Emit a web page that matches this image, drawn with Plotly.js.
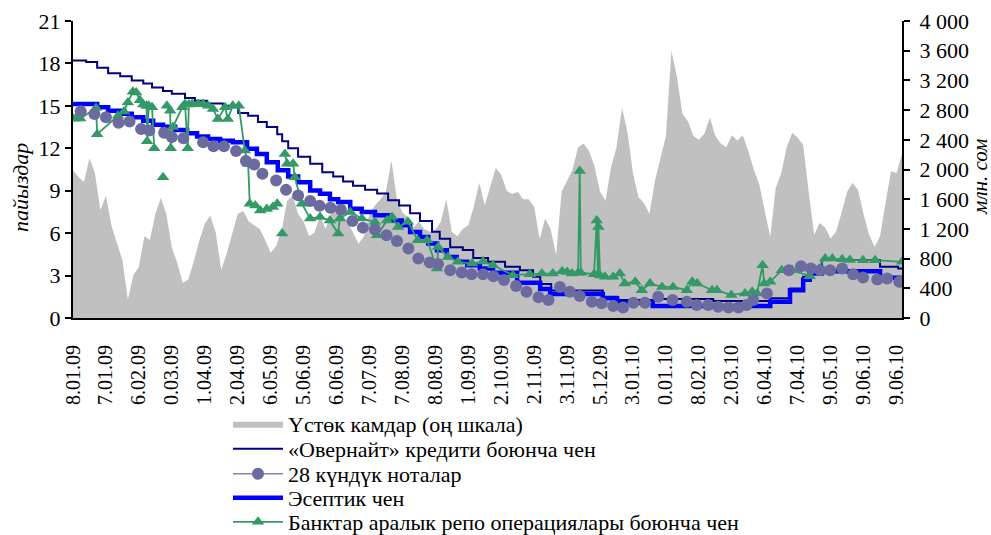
<!DOCTYPE html>
<html>
<head>
<meta charset="utf-8">
<script src="https://cdn.plot.ly/plotly-3.0.1.min.js"></script>
<style>
  html, body { margin: 0; padding: 0; background: #ffffff; }
  #chart { width: 991px; height: 535px; }
</style>
</head>
<body>
<div id="chart"></div>
<script>
// ---- tick labels (as printed, first character cut off in the source) ----
const dateLabels = ["8.01.09","7.01.09","6.02.09","0.03.09","1.04.09","2.04.09","6.05.09","5.06.09",
  "6.06.09","7.07.09","7.08.09","8.08.09","1.09.09","2.10.09","2.11.09","3.11.09","5.12.09",
  "3.01.10","0.01.10","8.02.10","2.03.10","6.04.10","7.04.10","9.05.10","9.06.10","9.06.10"];
const obsPerLabel = 6;   // observations between two printed dates

// ---- excess reserves, mln som (right scale), one value per observation ----
const reserves = [1990,1900,1830,2150,1950,1450,1650,1250,1010,780,
  250,580,690,1100,1050,1400,1620,1400,950,740,
  470,520,760,1040,1270,1380,1150,650,870,1120,
  1400,1440,1300,1250,1200,1050,880,970,1180,1580,
  1650,1400,1300,1100,1150,1380,1200,1409,1450,1400,
  1300,1150,1000,1100,1400,1520,1600,1700,2120,1600,
  1420,1355,1220,1300,1200,1160,1190,1300,1600,1160,
  1100,1200,1250,1500,1820,1520,1760,2020,1930,1710,
  1670,1700,1600,1600,1500,1060,1340,1200,850,1700,
  1850,2000,2300,2350,2250,2040,1700,1580,2030,2300,
  2830,2500,1950,1630,1550,1400,1850,2150,2450,3600,
  3250,2750,2650,2450,2400,2480,2700,2450,2350,2300,
  2460,2390,2460,2250,2000,1800,1420,1090,1750,1950,
  2300,2490,2430,2330,1700,1120,1280,1220,1070,1160,
  1420,1700,1820,1720,1400,1120,960,1100,1550,1980,
  1950,2214];
const reservesX = reserves.map((_, i) => i);

// ---- overnight credit rate, % (step changes) ----
const overnightX = [0,2.4,4.4,6.4,8.6,10.7,12.8,14.4,16.4,18.0,20.4,22.2,24.4,27.3,30.1,31.9,33.7,35.3,37.2,38.1,
  39.2,41.0,43.2,45.4,47.4,49.2,51.0,53.2,55.4,57.4,59.4,61.4,63.2,65.4,66.8,68.7,71.0,72.9,75.6,78.7,
  81.4,83.8,85.1,87.1,96.5,99.1,107.2,116.6,127.0,130.6,133.0,134.2,136.4,147.0,150.3,151];
const overnightY = [18.2,18.1,17.7,17.3,17.1,16.8,16.58,16.3,16.05,15.85,15.55,15.36,15.17,15.0,14.5,14.3,13.85,13.5,13.0,12.5,
  12.0,11.4,10.9,10.3,10.0,9.65,9.35,9.07,8.8,8.32,7.96,7.4,6.85,6.1,5.6,5.0,4.8,4.25,3.97,3.62,
  3.38,2.91,2.4,1.95,1.5,1.27,1.35,1.2,1.39,2.09,2.91,3.45,4.1,3.62,3.5,3.5];

// ---- discount rate, % (step changes) ----
const discountX = [0,4.4,6.4,8.6,10.7,12.8,14.6,16.4,18.6,20.8,22.6,24.6,26.8,29.1,31.7,33.5,35.3,37.3,39.2,41.0,
  43.2,45.0,46.8,48.3,50.5,52.6,55.0,57.4,59.9,61.4,63.2,64.7,66.3,68.1,69.9,71.8,74.1,76.5,80.9,85.1,
  86.9,96.5,99.1,105.6,127.0,130.6,133.0,134.2,136.4,147.0,151];
const discountY = [15.13,14.9,14.66,14.44,14.19,13.95,13.67,13.53,13.3,13.06,12.83,12.66,12.54,12.42,11.96,11.6,11.01,10.45,10.0,9.6,
  9.02,8.79,8.4,8.2,7.73,7.49,7.26,6.9,6.55,6.08,5.73,5.26,4.79,4.32,3.97,3.73,3.5,3.2,2.5,2.05,
  1.69,1.39,1.07,0.85,1.15,1.97,2.7,3.15,3.3,2.85,2.85];

// ---- 28-day notes yield, % ----
const notesX = [1.4,3.9,6.0,8.3,10.3,12.4,13.9,16.6,18.0,20.1,23.7,25.6,27.5,29.7,31.5,33.0,34.5,37.0,38.8,41.0,
  43.2,44.9,46.9,48.8,50.9,52.8,55.0,57.1,59.0,61.1,62.9,65.0,66.5,68.7,70.8,72.6,74.7,76.6,78.5,80.7,
  82.6,84.8,86.6,88.7,90.5,92.3,94.5,96.3,98.4,100.2,102.1,104.2,106.6,109.2,111.8,113.6,115.7,117.5,119.4,121.2,
  122.7,123.9,126.4,130.4,132.6,134.4,136.1,137.9,140.1,142.1,143.9,146.5,148.3,150.5];
const notesY = [14.61,14.43,14.19,13.8,13.9,13.37,13.25,13.1,12.8,12.71,12.43,12.15,12.15,11.8,11.1,10.85,10.2,9.72,9.06,8.67,
  8.27,7.94,7.8,7.65,6.86,6.39,6.25,5.85,5.45,4.91,4.2,3.92,3.81,3.38,3.22,3.1,3.1,2.96,2.68,2.26,
  1.85,1.46,1.27,2.2,1.85,1.55,1.15,1.04,0.85,0.75,1.08,1.08,1.5,1.27,1.15,0.92,0.92,0.8,0.75,0.75,
  0.92,1.27,1.74,3.38,3.66,3.5,3.38,3.38,3.5,3.1,2.87,2.73,2.8,2.56];

// ---- interbank repo rate, % (null = no trades) ----
const repoX = [0,0.5,1.3,4.2,4.4,8.2,9.3,10.0,10.9,11.5,12.2,12.8,13.4,13.5,13.8,14.4,14.8,15.5,16.4,17.0,
  17.1,17.7,17.8,18.2,19.9,20.4,20.9,21.1,21.7,22.8,23.7,24.6,25.5,26.4,27.7,28.2,29.1,30.2,31.3,31.9,
  32.2,33.2,34.1,35.3,36.4,37.2,37.7,38.1,38.4,38.6,39.0,40.1,40.4,41.7,43.2,45.0,46.8,48.3,48.6,50.5,
  52.6,55.0,55.4,57.2,58.1,59.2,61.0,62.8,64.5,66.3,66.5,68.3,70.1,72.7,74.7,76.5,80.1,83.2,85.4,87.4,
  89.1,90.0,90.9,92.0,92.3,92.5,94.9,95.4,95.6,95.7,96.0,96.9,98.4,99.6,100.5,102.4,103.6,105.1,107.3,109.3,
  111.8,112.8,113.7,116.4,117.3,119.9,122.4,123.7,124.6,125.6,125.9,127.0,129.1,131.0,134.2,137.0,138.3,140.1,141.5,143.9,
  146.1,151.0];
const repoY = [14.1,14.1,14.1,14.85,13.0,14.3,14.6,15.24,16.0,15.95,15.4,15.1,15.0,12.5,15.0,14.9,12.0,null,9.96,null,
  15.0,14.66,12.0,13.5,14.9,15.13,12.0,15.1,15.13,15.13,15.13,15.0,14.78,14.07,14.9,14.07,15.0,15.0,11.84,10.9,
  8.08,7.96,7.6,7.7,7.84,8.08,null,5.97,null,11.6,10.9,10.9,9.96,8.08,7.03,7.14,6.9,5.97,7.03,7.49,
  7.03,6.79,5.85,6.9,7.14,6.43,6.8,5.5,5.5,3.5,5.02,4.32,3.97,3.85,4.0,3.73,3.03,3.1,3.15,3.15,
  3.3,3.25,3.15,3.2,10.4,3.2,3.1,6.9,3.1,6.43,3.0,2.91,2.91,3.15,2.44,2.56,1.97,2.44,2.2,2.2,
  1.97,2.56,2.44,1.97,1.97,1.62,1.74,1.85,1.74,3.73,2.44,2.56,3.38,3.38,2.96,4.2,4.2,4.15,4.1,4.09,
  4.09,3.97];

const seriesNames = ["Үстөк камдар (оң шкала)", "«Овернайт» кредити боюнча чен", "28 күндүк ноталар",
  "Эсептик чен", "Банктар аралык репо операциялары боюнча чен"];

const FONT = "Liberation Serif, Times New Roman, serif";
const tickVals = dateLabels.map((_, k) => k * obsPerLabel);

const traces = [
  { type: "scatter", mode: "lines", x: reservesX, y: reserves, xaxis: "x", yaxis: "y",
    fill: "tozeroy", fillcolor: "#C0C0C0", line: { width: 0, color: "#C0C0C0" },
    name: seriesNames[0], legend: "legend", hoverinfo: "skip" },
  { type: "scatter", mode: "lines", x: overnightX, y: overnightY, xaxis: "x", yaxis: "y2",
    line: { shape: "hv", color: "#000080", width: 2 }, name: seriesNames[1], legend: "legend2" },
  { type: "scatter", mode: "lines", x: discountX, y: discountY, xaxis: "x", yaxis: "y2",
    line: { shape: "hv", color: "#0000FF", width: 4.5 }, name: seriesNames[3], legend: "legend4" },
  { type: "scatter", mode: "lines+markers", x: repoX, y: repoY, xaxis: "x", yaxis: "y2",
    line: { color: "#339966", width: 1.8 }, marker: { symbol: "triangle-up", size: 11, color: "#339966" },
    name: seriesNames[4], legend: "legend5" },
  // 28-day notes: markers only on the chart (the source draws no connecting line)
  { type: "scatter", mode: "markers", x: notesX, y: notesY, xaxis: "x", yaxis: "y2",
    marker: { symbol: "circle", size: 12, color: "#6B6BA0" },
    name: seriesNames[2], showlegend: false },
  // its legend key, drawn as in the source (line + marker)
  { type: "scatter", mode: "lines+markers", x: [null], y: [null], xaxis: "x", yaxis: "y2",
    line: { color: "#8484BC", width: 1.5 }, marker: { symbol: "circle", size: 12, color: "#6B6BA0" },
    name: seriesNames[2], legend: "legend3", hoverinfo: "skip" }
];

function legendAt(py) {
  return { xref: "container", yref: "container",
    x: 228 / 991, xanchor: "left", y: 1 - py / 535, yanchor: "middle",
    bgcolor: "rgba(0,0,0,0)", borderwidth: 0, itemwidth: 50,
    font: { family: FONT, size: 22, color: "#000" } };
}

const layout = {
  width: 991, height: 535,
  margin: { l: 73, r: 89, t: 21, b: 217, pad: 0, autoexpand: false },
  paper_bgcolor: "#ffffff", plot_bgcolor: "#ffffff",
  separators: ". ",
  font: { family: FONT, size: 22, color: "#000" },
  showlegend: true,
  xaxis: {
    range: [0, 151], showgrid: false, zeroline: false, automargin: false,
    showline: true, linecolor: "#000", linewidth: 2,
    tickmode: "array", tickvals: tickVals, ticktext: dateLabels,
    tickangle: -90, ticks: "", ticklabelstandoff: 17,
    tickfont: { family: FONT, size: 20, color: "#000" }
  },
  yaxis: {
    side: "right", range: [0, 4000], dtick: 400, tickformat: ",d", automargin: false,
    showgrid: false, zeroline: false, showline: true, linecolor: "#000", linewidth: 2,
    ticks: "outside", ticklen: 6, tickwidth: 2, tickcolor: "#000", ticklabelstandoff: 5,
    tickfont: { family: FONT, size: 22, color: "#000" }
  },
  yaxis2: {
    overlaying: "y", side: "left", range: [0, 21], dtick: 3, automargin: false,
    showgrid: false, zeroline: false, showline: true, linecolor: "#000", linewidth: 2,
    ticks: "outside", ticklen: 6, tickwidth: 2, tickcolor: "#000",
    tickfont: { family: FONT, size: 22, color: "#000" }
  },
  legend: legendAt(424),
  legend2: legendAt(449),
  legend3: legendAt(474),
  legend4: legendAt(498),
  legend5: legendAt(522),
  annotations: [
    { text: "пайыздар", textangle: -90, xref: "paper", yref: "paper",
      x: (20 - 73) / 829, y: (318 - 188) / 297, xanchor: "center", yanchor: "middle", showarrow: false,
      font: { family: FONT, size: 22, color: "#000", style: "italic" } },
    { text: "млн. сом", textangle: -90, xref: "paper", yref: "paper",
      x: (980 - 73) / 829, y: (318 - 177) / 297, xanchor: "center", yanchor: "middle", showarrow: false,
      font: { family: FONT, size: 21, color: "#000", style: "italic" } }
  ]
};

Plotly.newPlot("chart", traces, layout, { displayModeBar: false, staticPlot: true });
</script>
</body>
</html>
